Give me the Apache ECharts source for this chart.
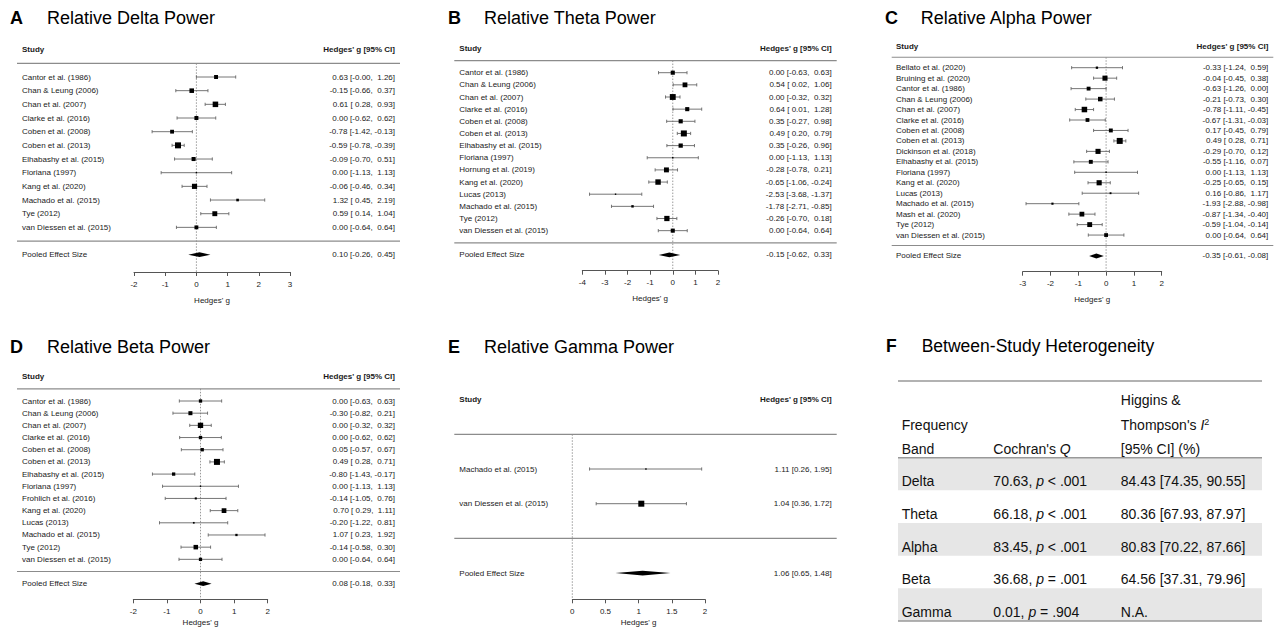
<!DOCTYPE html>
<html><head><meta charset="utf-8">
<script src="https://cdn.jsdelivr.net/npm/echarts@6/dist/echarts.min.js"></script>
<style>html,body{margin:0;padding:0;background:#fff}#c{width:1281px;height:628px}</style>
</head><body><div id="c"></div>
<script>
const FONT = '"Liberation Sans", Arial, Helvetica, sans-serif';
const TXT = '#1a1a1a';

// ---------- A: Relative Delta Power ----------
const deltaStudies = ['Cantor et al. (1986)','Chan & Leung (2006)','Chan et al. (2007)','Clarke et al. (2016)','Coben et al. (2008)','Coben et al. (2013)','Elhabashy et al. (2015)','Floriana (1997)','Kang et al. (2020)','Machado et al. (2015)','Tye (2012)','van Diessen et al. (2015)'];
const deltaEst   = [0.63, -0.15, 0.61, 0.00, -0.78, -0.59, -0.09, 0.00, -0.06, 1.32, 0.59, 0.00];
const deltaLower = [-0.00, -0.66, 0.28, -0.62, -1.42, -0.78, -0.70, -1.13, -0.46, 0.45, 0.14, -0.64];
const deltaUpper = [1.26, 0.37, 0.93, 0.62, -0.13, -0.39, 0.51, 1.13, 0.34, 2.19, 1.04, 0.64];
const deltaPooled = [0.10, -0.26, 0.45];
const deltaTicks = [-2, -1, 0, 1, 2, 3];

// ---------- B: Relative Theta Power ----------
const thetaStudies = ['Cantor et al. (1986)','Chan & Leung (2006)','Chan et al. (2007)','Clarke et al. (2016)','Coben et al. (2008)','Coben et al. (2013)','Elhabashy et al. (2015)','Floriana (1997)','Hornung et al. (2019)','Kang et al. (2020)','Lucas (2013)','Machado et al. (2015)','Tye (2012)','van Diessen et al. (2015)'];
const thetaEst   = [0.00, 0.54, 0.00, 0.64, 0.35, 0.49, 0.35, 0.00, -0.28, -0.65, -2.53, -1.78, -0.26, 0.00];
const thetaLower = [-0.63, 0.02, -0.32, 0.01, -0.27, 0.20, -0.26, -1.13, -0.78, -1.06, -3.68, -2.71, -0.70, -0.64];
const thetaUpper = [0.63, 1.06, 0.32, 1.28, 0.98, 0.79, 0.96, 1.13, 0.21, -0.24, -1.37, -0.85, 0.18, 0.64];
const thetaPooled = [-0.15, -0.62, 0.33];
const thetaTicks = [-4, -3, -2, -1, 0, 1, 2];

// ---------- C: Relative Alpha Power ----------
const alphaStudies = ['Bellato et al. (2020)','Bruining et al. (2020)','Cantor et al. (1986)','Chan & Leung (2006)','Chan et al. (2007)','Clarke et al. (2016)','Coben et al. (2008)','Coben et al. (2013)','Dickinson et al. (2018)','Elhabashy et al. (2015)','Floriana (1997)','Kang et al. (2020)','Lucas (2013)','Machado et al. (2015)','Mash et al. (2020)','Tye (2012)','van Diessen et al. (2015)'];
const alphaEst   = [-0.33, -0.04, -0.63, -0.21, -0.78, -0.67, 0.17, 0.49, -0.29, -0.55, 0.00, -0.25, 0.16, -1.93, -0.87, -0.59, 0.00];
const alphaLower = [-1.24, -0.45, -1.26, -0.73, -1.11, -1.31, -0.45, 0.28, -0.70, -1.16, -1.13, -0.65, -0.86, -2.88, -1.34, -1.04, -0.64];
const alphaUpper = [0.59, 0.38, 0.00, 0.30, -0.45, -0.03, 0.79, 0.71, 0.12, 0.07, 1.13, 0.15, 1.17, -0.98, -0.40, -0.14, 0.64];
const alphaPooled = [-0.35, -0.61, -0.08];
const alphaTicks = [-3, -2, -1, 0, 1, 2];

// ---------- D: Relative Beta Power ----------
const betaStudies = ['Cantor et al. (1986)','Chan & Leung (2006)','Chan et al. (2007)','Clarke et al. (2016)','Coben et al. (2008)','Coben et al. (2013)','Elhabashy et al. (2015)','Floriana (1997)','Frohlich et al. (2016)','Kang et al. (2020)','Lucas (2013)','Machado et al. (2015)','Tye (2012)','van Diessen et al. (2015)'];
const betaEst   = [0.00, -0.30, 0.00, 0.00, 0.05, 0.49, -0.80, 0.00, -0.14, 0.70, -0.20, 1.07, -0.14, 0.00];
const betaLower = [-0.63, -0.82, -0.32, -0.62, -0.57, 0.28, -1.43, -1.13, -1.05, 0.29, -1.22, 0.23, -0.58, -0.64];
const betaUpper = [0.63, 0.21, 0.32, 0.62, 0.67, 0.71, -0.17, 1.13, 0.76, 1.11, 0.81, 1.92, 0.30, 0.64];
const betaPooled = [0.08, -0.18, 0.33];
const betaTicks = [-2, -1, 0, 1, 2];

// ---------- E: Relative Gamma Power ----------
const gammaStudies = ['Machado et al. (2015)','van Diessen et al. (2015)'];
const gammaEst   = [1.11, 1.04];
const gammaLower = [0.26, 0.36];
const gammaUpper = [1.95, 1.72];
const gammaPooled = [1.06, 0.65, 1.48];
const gammaTicks = [0, 0.5, 1, 1.5, 2];

// ---------- F: Between-Study Heterogeneity ----------
const bands = ['Delta', 'Theta', 'Alpha', 'Beta', 'Gamma'];
const cochranQ = [70.63, 66.18, 83.45, 36.68, 0.01];
const cochranP = ['< .001', '< .001', '< .001', '= .001', '= .904'];
const i2Est   = [84.43, 80.36, 80.83, 64.56, null];
const i2Lower = [74.35, 67.93, 70.22, 37.31, null];
const i2Upper = [90.55, 87.97, 87.66, 79.96, null];
const tableHeader = [
  ['', '', 'Higgins &'],
  ['Frequency', '', "Thompson's {i|I}{s|2}"],
  ['Band', "Cochran's {i|Q}", '[95% CI] (%)']
];

// ---------- helpers ----------
function fmt(v) {
  return (v < 0 || Object.is(v, -0)) ? '-' + Math.abs(v).toFixed(2) : v.toFixed(2);
}
function ciTexts(est, lo, hi, pooled) {
  const e = est.concat([pooled[0]]).map(fmt);
  const l = lo.concat([pooled[1]]).map(fmt);
  const h = hi.concat([pooled[2]]).map(fmt);
  const we = Math.max(...e.map(s => s.length));
  const wl = Math.max(...l.map(s => s.length));
  const wh = Math.max(...h.map(s => s.length));
  return e.map((s, i) => s.padStart(we) + ' [' + l[i].padStart(wl) + ', ' + h[i].padStart(wh) + ']');
}
// random-effects (DerSimonian-Laird) weights -> box sizes, derived from the CIs
function boxSizes(est, lo, hi, minS, maxS) {
  const v = lo.map((l, i) => Math.pow((hi[i] - l) / 3.92, 2));
  const w = v.map(x => 1 / x);
  const sw = w.reduce((a, b) => a + b, 0);
  const sw2 = w.reduce((a, b) => a + b * b, 0);
  const yb = w.reduce((a, b, i) => a + b * est[i], 0) / sw;
  const Q = w.reduce((a, b, i) => a + b * Math.pow(est[i] - yb, 2), 0);
  const tau2 = Math.max(0, (Q - (est.length - 1)) / (sw - sw2 / sw));
  const wr = v.map(x => 1 / (x + tau2));
  const mn = Math.min(...wr), mx = Math.max(...wr);
  return wr.map(x => minS + (mx > mn ? (x - mn) / (mx - mn) : 1) * (maxS - minS));
}

const panels = [
  { letter: 'A', title: 'Relative Delta Power', studies: deltaStudies, est: deltaEst, lo: deltaLower, hi: deltaUpper, pooled: deltaPooled, ticks: deltaTicks,
    L: { titleY: 17.5, letterX: 10, titleX: 47, labelX: 22, valueX: 395, lineL: 17, lineR: 400, y0: 77, dy: 13.67, axisY: 272, axisL: 134, axisR: 290, nameGap: 24 } },
  { letter: 'B', title: 'Relative Theta Power', studies: thetaStudies, est: thetaEst, lo: thetaLower, hi: thetaUpper, pooled: thetaPooled, ticks: thetaTicks,
    L: { titleY: 17.5, letterX: 448, titleX: 484, labelX: 459.3, valueX: 831.7, lineL: 454.3, lineR: 836.7, y0: 72.7, dy: 12.15, axisY: 270.7, axisL: 582.3, axisR: 718, nameGap: 24 } },
  { letter: 'C', title: 'Relative Alpha Power', studies: alphaStudies, est: alphaEst, lo: alphaLower, hi: alphaUpper, pooled: alphaPooled, ticks: alphaTicks,
    L: { titleY: 17.8, letterX: 885, titleX: 920.7, labelX: 896, valueX: 1268.3, lineL: 891.7, lineR: 1273.3, y0: 67.7, dy: 10.46, axisY: 271.7, axisL: 1022.7, axisR: 1161.7, nameGap: 24 } },
  { letter: 'D', title: 'Relative Beta Power', studies: betaStudies, est: betaEst, lo: betaLower, hi: betaUpper, pooled: betaPooled, ticks: betaTicks,
    L: { titleY: 346.5, letterX: 10, titleX: 47, labelX: 22, valueX: 395, lineL: 17, lineR: 400, y0: 401, dy: 12.18, axisY: 599.3, axisL: 133.3, axisR: 267.7, nameGap: 19 } },
  { letter: 'E', title: 'Relative Gamma Power', studies: gammaStudies, est: gammaEst, lo: gammaLower, hi: gammaUpper, pooled: gammaPooled, ticks: gammaTicks,
    L: { titleY: 346.5, letterX: 448, titleX: 484, labelX: 459.3, valueX: 831.7, lineL: 454.3, lineR: 836.7, y0: 469, dy: 34.7, axisY: 599.3, axisL: 572.3, axisR: 705, nameGap: 19 } }
];

const grids = [], xAxes = [], yAxes = [], series = [], titles = [];
const smallText = { fontSize: 8, fontFamily: FONT, fill: TXT, verticalAlign: 'middle' };

panels.forEach((p, gi) => {
  const L = p.L, k = p.studies.length;
  const minRow = -3;
  const maxRow = (L.axisY - L.y0) / L.dy;
  const gTop = L.y0 + minRow * L.dy;
  const texts = ciTexts(p.est, p.lo, p.hi, p.pooled);
  const sizes = boxSizes(p.est, p.lo, p.hi, 1.4, 6);

  titles.push({ text: p.letter, left: L.letterX, top: L.titleY - 9, padding: 0,
    textStyle: { fontSize: 18, fontWeight: 'bold', color: '#000', fontFamily: FONT } });
  titles.push({ text: p.title, left: L.titleX, top: L.titleY - 9, padding: 0,
    textStyle: { fontSize: 18, fontWeight: 'normal', color: '#000', fontFamily: FONT } });

  grids.push({ left: L.axisL, top: gTop, width: L.axisR - L.axisL, height: L.axisY - gTop, outerBoundsMode: 'none', containLabel: false });
  xAxes.push({ gridIndex: gi, type: 'value', min: p.ticks[0], max: p.ticks[p.ticks.length - 1], interval: p.ticks[1] - p.ticks[0],
    axisLine: { show: true, onZero: false, lineStyle: { color: '#555', width: 1 } },
    axisTick: { show: true, length: 4, lineStyle: { color: '#555', width: 1 } },
    axisLabel: { fontSize: 8, color: TXT, margin: 8, fontFamily: FONT },
    splitLine: { show: false },
    name: "Hedges' g", nameLocation: 'middle', nameGap: L.nameGap,
    nameTextStyle: { fontSize: 8, color: TXT, fontFamily: FONT } });
  yAxes.push({ gridIndex: gi, type: 'value', inverse: true, min: minRow, max: maxRow, show: false });

  // frame: header, separators, zero line, pooled effect
  series.push({
    type: 'custom', xAxisIndex: gi, yAxisIndex: gi, clip: false, silent: true,
    data: [[0, -1]],
    renderItem: (params, api) => {
      const hdr = api.coord([0, -2])[1];
      const top = api.coord([0, -1])[1];
      const bot = api.coord([0, k])[1];
      const z0 = api.coord([0, -1]);
      const z1 = api.coord([0, maxRow]);
      const pc = api.coord([p.pooled[0], k + 1]);
      const pl = api.coord([p.pooled[1], k + 1]);
      const ph = api.coord([p.pooled[2], k + 1]);
      const dh = 2.4;
      return { type: 'group', children: [
        { type: 'line', shape: { x1: z0[0], y1: z0[1], x2: z1[0], y2: z1[1] }, style: { stroke: '#9a9a9a', lineWidth: 1, lineDash: [1.5, 1.5] } },
        { type: 'line', shape: { x1: L.lineL, y1: top, x2: L.lineR, y2: top }, style: { stroke: '#8c8c8c', lineWidth: 1.2 } },
        { type: 'line', shape: { x1: L.lineL, y1: bot, x2: L.lineR, y2: bot }, style: { stroke: '#8c8c8c', lineWidth: 1.2 } },
        { type: 'text', style: Object.assign({}, smallText, { text: 'Study', x: L.labelX, y: hdr, fontWeight: 'bold' }) },
        { type: 'text', style: Object.assign({}, smallText, { text: "Hedges' g [95% CI]", x: L.valueX, y: hdr, align: 'right', fontWeight: 'bold' }) },
        { type: 'text', style: Object.assign({}, smallText, { text: 'Pooled Effect Size', x: L.labelX, y: pc[1] }) },
        { type: 'text', style: Object.assign({}, smallText, { text: texts[k], x: L.valueX, y: pc[1], align: 'right' }) },
        { type: 'polygon', shape: { points: [[pl[0], pc[1]], [pc[0], pc[1] - dh], [ph[0], pc[1]], [pc[0], pc[1] + dh]] }, style: { fill: '#000' } }
      ] };
    }
  });

  // studies
  series.push({
    type: 'custom', xAxisIndex: gi, yAxisIndex: gi, clip: false, silent: true,
    data: p.studies.map((s, i) => [p.est[i], i, p.lo[i], p.hi[i]]),
    encode: { x: [0, 2, 3], y: 1 },
    renderItem: (params, api) => {
      const i = params.dataIndex;
      const c = api.coord([api.value(0), api.value(1)]);
      const l = api.coord([api.value(2), api.value(1)]);
      const h = api.coord([api.value(3), api.value(1)]);
      const s = sizes[i];
      const y = c[1];
      return { type: 'group', children: [
        { type: 'text', style: Object.assign({}, smallText, { text: p.studies[i], x: L.labelX, y: y }) },
        { type: 'text', style: Object.assign({}, smallText, { text: texts[i], x: L.valueX, y: y, align: 'right' }) },
        { type: 'line', shape: { x1: l[0], y1: y, x2: h[0], y2: y }, style: { stroke: '#666', lineWidth: 0.9 } },
        { type: 'line', shape: { x1: l[0], y1: y - 1.6, x2: l[0], y2: y + 1.6 }, style: { stroke: '#666', lineWidth: 0.9 } },
        { type: 'line', shape: { x1: h[0], y1: y - 1.6, x2: h[0], y2: y + 1.6 }, style: { stroke: '#666', lineWidth: 0.9 } },
        { type: 'rect', shape: { x: c[0] - s / 2, y: y - s / 2, width: s, height: s }, style: { fill: '#000' } }
      ] };
    }
  });
});

// ---------- F: table ----------
const TG = panels.length;
const colPos = [0.01, 0.262, 0.612];
const bigText = { fontSize: 14, fontFamily: FONT, fill: '#111', verticalAlign: 'middle',
  rich: { i: { fontStyle: 'italic', fontSize: 14, fontFamily: FONT, fill: '#111' },
          s: { fontSize: 9, fontFamily: FONT, fill: '#111', verticalAlign: 'top' } } };
titles.push({ text: 'F', left: 886, top: 346.2 - 8.75, padding: 0, textStyle: { fontSize: 17.5, fontWeight: 'bold', color: '#000', fontFamily: FONT } });
titles.push({ text: 'Between-Study Heterogeneity', left: 921.7, top: 346.2 - 8.75, padding: 0, textStyle: { fontSize: 17.5, fontWeight: 'normal', color: '#000', fontFamily: FONT } });
grids.push({ left: 898, top: 457.7, width: 364, height: 163.3, outerBoundsMode: 'none', containLabel: false });
xAxes.push({ gridIndex: TG, type: 'value', min: 0, max: 1, show: false });
yAxes.push({ gridIndex: TG, type: 'category', data: bands, inverse: true, show: false });

series.push({
  type: 'custom', xAxisIndex: TG, yAxisIndex: TG, clip: false, silent: true,
  data: bands.map((b, i) => [0, i]),
  renderItem: (params, api) => {
    const i = params.dataIndex;
    const cs = params.coordSys;
    const band = api.size([0, 1])[1];
    const yc = api.coord([0, i])[1];
    const ty = yc + band * 0.22;
    const cells = [bands[i], cochranQ[i].toFixed(2) + ', {i|p} ' + cochranP[i],
      i2Est[i] == null ? 'N.A.' : i2Est[i].toFixed(2) + ' [' + i2Lower[i].toFixed(2) + ', ' + i2Upper[i].toFixed(2) + ']'];
    const ch = [];
    if (i % 2 === 0) ch.push({ type: 'rect', shape: { x: cs.x, y: yc - band / 2, width: cs.width, height: band }, style: { fill: '#e6e6e6' } });
    cells.forEach((t, j) => {
      const x = api.coord([colPos[j], i])[0];
      ch.push({ type: 'text', style: Object.assign({}, bigText, { text: t, x: x, y: ty }) });
    });
    return { type: 'group', children: ch };
  }
});
series.push({
  type: 'custom', xAxisIndex: TG, yAxisIndex: TG, clip: false, silent: true,
  data: [[0, 0]],
  renderItem: (params, api) => {
    const cs = params.coordSys;
    const ch = [
      { type: 'line', shape: { x1: cs.x, y1: cs.y - 76.7, x2: cs.x + cs.width, y2: cs.y - 76.7 }, style: { stroke: '#999', lineWidth: 1.4 } },
      { type: 'line', shape: { x1: cs.x, y1: cs.y, x2: cs.x + cs.width, y2: cs.y }, style: { stroke: '#999', lineWidth: 1.4 } },
      { type: 'line', shape: { x1: cs.x, y1: cs.y + cs.height, x2: cs.x + cs.width, y2: cs.y + cs.height }, style: { stroke: '#999', lineWidth: 1.4 } }
    ];
    const rowY = [-57.4, -33.2, -8.7];
    tableHeader.forEach((row, r) => row.forEach((t, j) => {
      if (!t) return;
      ch.push({ type: 'text', style: Object.assign({}, bigText, { text: t, x: api.coord([colPos[j], 0])[0], y: cs.y + rowY[r] }) });
    }));
    return { type: 'group', children: ch };
  }
});

const chart = echarts.init(document.getElementById('c'), null, { renderer: 'svg' });
chart.setOption({
  animation: false,
  backgroundColor: '#fff',
  title: titles,
  grid: grids,
  xAxis: xAxes,
  yAxis: yAxes,
  series: series
});
</script></body></html>
